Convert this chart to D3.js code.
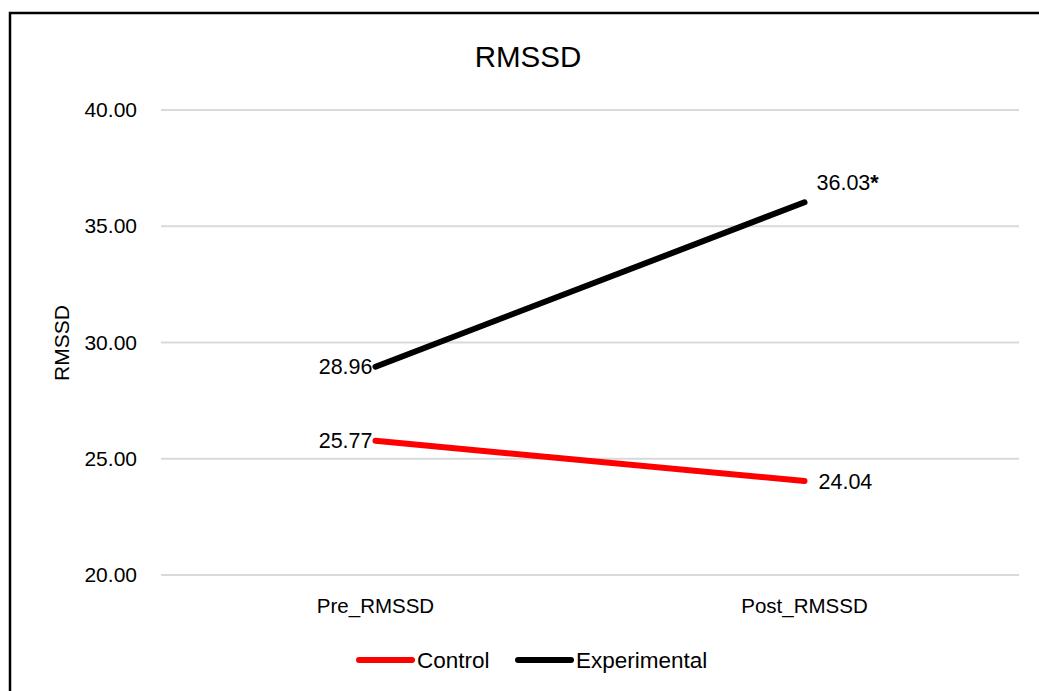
<!DOCTYPE html>
<html>
<head>
<meta charset="utf-8">
<script src="https://cdn.jsdelivr.net/npm/d3@7"></script>
<style>
    body { margin: 0; background: #fff; }
    text { font-family: "Liberation Sans", Arial, sans-serif; fill: #000; }
    .grid line { stroke: #d9d9d9; stroke-width: 2; }
</style>
</head>
<body>
<svg id="chart" width="1039" height="691"></svg>
<script>
// data
let categories = ["Pre_RMSSD", "Post_RMSSD"];
let seriesNames = ["Control", "Experimental"];
let controlValues = [25.77, 24.04];
let experimentalValues = [28.96, 36.03];
let valueLabels = [["25.77", "24.04"], ["28.96", "36.03*"]];
let yTicks = [20, 25, 30, 35, 40];
let colors = ["#ff0000", "#000000"];

let svg = d3.select("#chart");

// outer frame (right and bottom edges fall outside the picture)
svg.append("rect")
    .attr("x", 10).attr("y", 13)
    .attr("width", 1060).attr("height", 700)
    .attr("fill", "none").attr("stroke", "#000").attr("stroke-width", 2.5);

let x = d3.scaleBand().domain(categories).range([161, 1019]);
let y = d3.scaleLinear().domain([20, 40]).range([575, 110]);

// gridlines
svg.append("g").attr("class", "grid")
    .selectAll("line").data(yTicks).enter()
    .append("line")
    .attr("x1", 161).attr("x2", 1019)
    .attr("y1", d => y(d)).attr("y2", d => y(d));

// y axis labels
let yAxis = d3.axisLeft(y).tickValues(yTicks).tickFormat(d3.format(".2f")).tickSize(0).tickPadding(0);
let yg = svg.append("g").attr("transform", "translate(137,0)").call(yAxis);
yg.select(".domain").remove();
yg.selectAll("text").style("font-size", "21px").style("font-family", null).attr("fill", null);

// x axis labels
let xAxis = d3.axisBottom(x).tickSize(0).tickPadding(0);
let xg = svg.append("g").attr("transform", "translate(0,598)").call(xAxis);
xg.select(".domain").remove();
xg.selectAll("text").style("font-size", "20.5px").style("font-family", null).attr("fill", null);

// title + axis title
svg.append("text").attr("x", 528).attr("y", 67)
    .attr("text-anchor", "middle").style("font-size", "29.5px").text("RMSSD");
svg.append("text").attr("transform", "translate(69,343) rotate(-90)")
    .attr("text-anchor", "middle").style("font-size", "21px").text("RMSSD");

let cx = d => x(d) + x.bandwidth() / 2;
let line = d3.line().x(d => cx(d.cat)).y(d => y(d.v));

let series = [controlValues, experimentalValues].map((vals, i) =>
    vals.map((v, j) => ({cat: categories[j], v: v, label: valueLabels[i][j]})));

series.forEach((s, i) => {
    svg.append("path").datum(s)
        .attr("d", line)
        .attr("fill", "none")
        .attr("stroke", colors[i])
        .attr("stroke-width", 6)
        .attr("stroke-linecap", "round");
});

// data labels: first point left of the marker, last point to the right
series.forEach((s, i) => {
    s.forEach((d, j) => {
        let t = svg.append("text").style("font-size", "21.5px").attr("dy", "0.35em");
        if (j === 0) {
            t.attr("x", cx(d.cat) - 3).attr("y", y(d.v)).attr("text-anchor", "end");
        } else if (i === 1) {
            t.attr("x", cx(d.cat) + 12).attr("y", y(d.v) - 20);
        } else {
            t.attr("x", cx(d.cat) + 14).attr("y", y(d.v));
        }
        if (d.label.endsWith("*")) {
            t.text(d.label.slice(0, -1));
            t.append("tspan").style("font-weight", "bold").text("*");
        } else {
            t.text(d.label);
        }
    });
});

// legend
let legend = svg.append("g").attr("transform", "translate(0,660)");
let legendX = [359, 518];
seriesNames.forEach((name, i) => {
    legend.append("line")
        .attr("x1", legendX[i]).attr("x2", legendX[i] + 53)
        .attr("y1", 0).attr("y2", 0)
        .attr("stroke", colors[i]).attr("stroke-width", 6)
        .attr("stroke-linecap", "round");
    legend.append("text")
        .attr("x", legendX[i] + 58).attr("y", 0).attr("dy", "0.35em")
        .style("font-size", "22.5px").text(name);
});
</script>
</body>
</html>
